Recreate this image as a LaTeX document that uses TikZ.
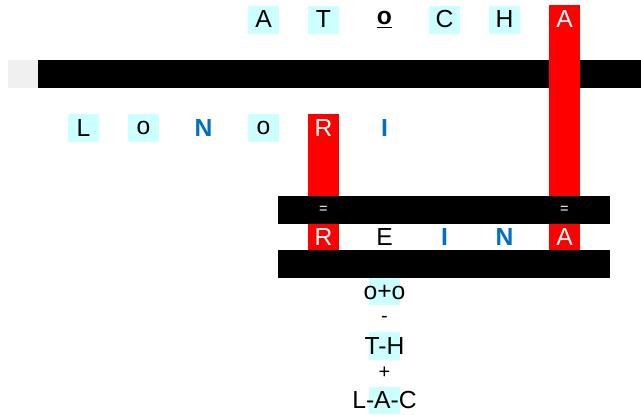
\documentclass[tikz,border=0pt]{standalone}
\usepackage{fontspec}
\setmainfont{Liberation Sans}

\definecolor{cellcyan}{HTML}{CCFFFF}
\definecolor{letterblue}{HTML}{0070C0}
\definecolor{barred}{HTML}{FF0000}
\definecolor{padgrey}{HTML}{F0F0F0}

\tikzset{
  letter/.style={minimum width=23.25pt, minimum height=21pt, inner sep=0pt,
    font=\fontsize{18.5}{21}\selectfont},
  cyancell/.style={letter, fill=cellcyan},
  redcell/.style={letter, text=white},
  bluecell/.style={letter, text=letterblue, font=\fontsize{18.5}{21}\selectfont\bfseries},
  eqsign/.style={text=white, inner sep=0pt, font=\fontsize{11}{12}\selectfont},
  opsign/.style={inner sep=0pt, font=\fontsize{15}{17}\selectfont},
}

\begin{document}
\begin{tikzpicture}[x=0.75pt, y=-0.75pt]
  \useasboundingbox (0,0) rectangle (641,414);

  % bars and columns
  \fill[padgrey] (8,60) rectangle (38,88);
  \fill (38,60) rectangle (641,88);
  \fill[barred] (549,5) rectangle (580,196);
  \fill[barred] (308,114) rectangle (339,196);
  \fill (278,196) rectangle (610,224);
  \fill[barred] (308,224) rectangle (339,250);
  \fill[barred] (549,224) rectangle (580,250);
  \fill (278,250) rectangle (610,278);

  % top row
  \node[cyancell] (t1) at (263.5,19.5) {A};
  \node[cyancell] (t2) at (323.5,19.5) {T};
  \node[letter]   (t3) at (384.5,19.5) {\underline{\textbf{o}}};
  \node[cyancell] (t4) at (444.5,19.5) {C};
  \node[cyancell] (t5) at (504.5,19.5) {H};
  \node[redcell]  (t6) at (564.5,19.5) {A};

  % middle row
  \node[cyancell] (m1) at (83.5,128) {L};
  \node[cyancell] (m2) at (143.5,128) {o};
  \node[bluecell] (m3) at (203.5,128) {N};
  \node[cyancell] (m4) at (263.5,128) {o};
  \node[redcell]  (m5) at (323.5,128) {R};
  \node[bluecell] (m6) at (384.5,128) {I};

  % equal signs on the bar
  \node[eqsign] (e1) at (323.5,210) {=};
  \node[eqsign] (e2) at (564.5,210) {=};

  % bottom row
  \node[redcell]  (b1) at (323.5,237) {R};
  \node[letter]   (b2) at (384.5,237) {E};
  \node[bluecell] (b3) at (444.5,237) {I};
  \node[bluecell] (b4) at (504.5,237) {N};
  \node[redcell]  (b5) at (564.5,237) {A};

  % working below
  \fill[cellcyan] (369,278) rectangle (400,305);
  \fill[cellcyan] (369,332) rectangle (400,360);
  \fill[cellcyan] (369,387) rectangle (400,414);
  \node[letter] (s1) at (384.5,292) {o+o};
  \node[opsign] (s2) at (384.5,319) {-};
  \node[letter] (s3) at (384.5,346) {T-H};
  \node[opsign] (s4) at (384.5,373) {+};
  \node[letter] (s5) at (384.5,400) {L-A-C};
\end{tikzpicture}
\end{document}
